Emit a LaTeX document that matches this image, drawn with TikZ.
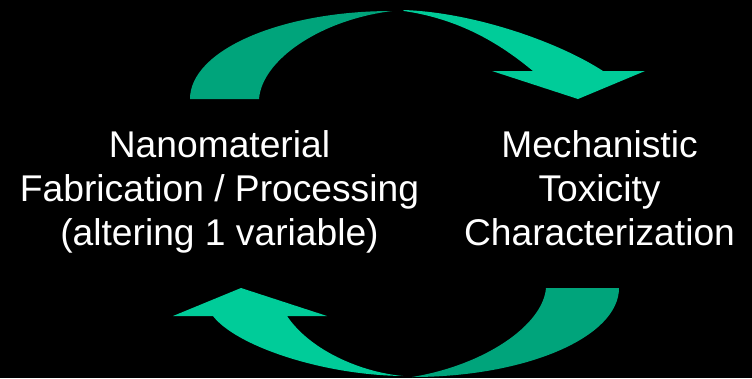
\documentclass[tikz,border=0pt]{standalone}
\usepackage{fontspec}
\setmainfont{Liberation Sans}
\definecolor{arrowlight}{HTML}{00CC99}
\definecolor{arrowdark}{HTML}{00A47B}
\tikzset{
  label/.style={text=white, align=center, inner sep=0pt, anchor=base,
    font=\fontsize{37.2}{44}\selectfont},
  front/.style={fill=arrowlight, draw=none},
  back/.style={fill=arrowdark, draw=none}
}
\begin{document}
\begin{tikzpicture}[x=1pt, y=-1pt]
  % canvas
  \fill[black] (0,0) rectangle (752,378);
  \useasboundingbox (0,0) rectangle (752,378);

  % upper curved arrow: shaded back band
  \fill[back] (190,99) .. controls (190,50.4) and (280.4,11) .. (392,11)
    .. controls (320,20) and (262,60) .. (259,99) -- cycle;
  % upper curved arrow: front band with head
  \fill[front] (403,10) .. controls (470,12) and (555,40) .. (603,71)
    -- (645,71) -- (578,99) -- (492,71) -- (533,71)
    .. controls (505,48) and (465,20) .. (404,11) -- cycle;

  % lower curved arrow: shaded back band
  \fill[back] (619,288) .. controls (619,337) and (526.3,377) .. (412,377)
    .. controls (485,365) and (543,325) .. (546,288) -- cycle;
  % lower curved arrow: front band with head
  \fill[front] (213,316) -- (173,316) -- (241,288) -- (327,316) -- (287,316)
    .. controls (310,350) and (360,372) .. (403,376)
    .. controls (320,375) and (235,345) .. (213,316) -- cycle;

  % labels (base anchor sits on the last line's baseline)
  \node[label] (fab) at (219.5,245) {Nanomaterial\\Fabrication / Processing\\(altering 1 variable)};
  \node[label] (tox) at (599.5,245) {Mechanistic\\Toxicity\\Characterization};
\end{tikzpicture}
\end{document}
